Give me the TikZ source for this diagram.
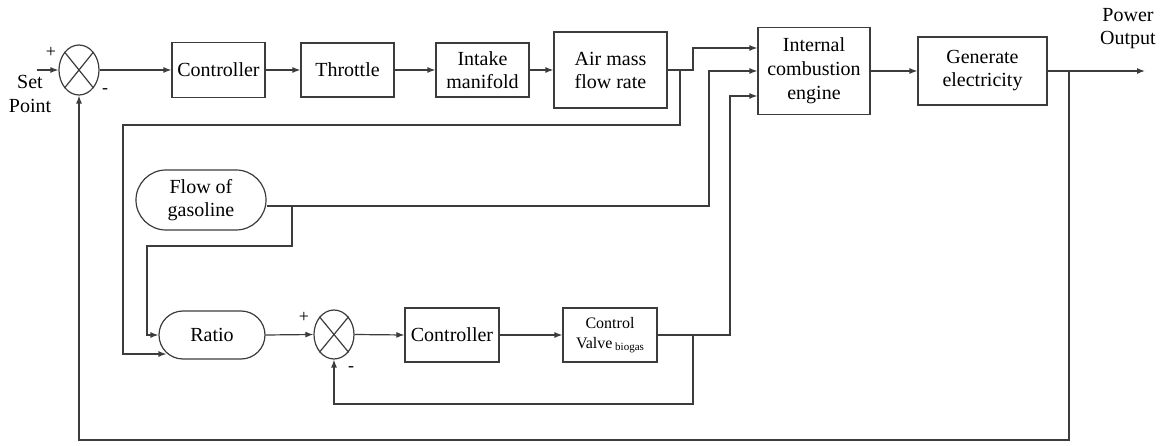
\documentclass[tikz,border=0pt]{standalone}
\usepackage{fontspec}
\setmainfont{Liberation Serif}
\newfontfamily\tnr{Liberation Serif}
\usetikzlibrary{shapes.geometric,shapes.misc,arrows.meta,calc}
\definecolor{ln}{RGB}{60,60,60}
\begin{document}
\begin{tikzpicture}[x=1pt,y=-1pt,
  every node/.style={inner sep=0pt, align=center, font=\tnr\fontsize{20}{23}\selectfont, text=black},
  blk/.style={draw=ln, line width=1.2pt, rectangle},
  rnd/.style={draw=ln, line width=1.2pt, rounded rectangle},
  sumj/.style={draw=ln, line width=1.2pt, ellipse, minimum width=40pt, minimum height=50pt},
  wire/.style={draw=ln, line width=1.2pt},
  arr/.style={wire, -{Latex[length=8pt,width=6pt]}},
  sgn/.style={font=\tnr\fontsize{18}{20}\selectfont},
]
\useasboundingbox (0,0) rectangle (1165,446);

% top loop
\node[sumj] (s1) at (79,70) {};
\draw[wire] (s1.north west) -- (s1.south east) (s1.north east) -- (s1.south west);
\node[blk, minimum width=93pt, minimum height=55pt] (c1) at (218.5,70) {Controller};
\node[blk, minimum width=93pt, minimum height=54pt] (thr) at (347.5,70) {Throttle};
\node[blk, minimum width=93pt, minimum height=54pt] (intk) at (482.5,70) {Intake\\manifold};
\node[blk, minimum width=113pt, minimum height=76pt] (air) at (610.5,70) {Air mass\\flow rate};
\node[blk, minimum width=112pt, minimum height=87pt, font=\tnr\fontsize{20}{24}\selectfont] (ice) at (814,71) {Internal\\combustion\\engine};
\node[blk, minimum width=129pt, minimum height=68pt] (gen) at (982.5,71) {Generate\\electricity};

\node[font=\tnr\fontsize{20}{24}\selectfont] (sp) at (30,94) {Set\\Point};
\node (po) at (1128,29) {Power\\Output};
\node[sgn] (p1) at (51,52) {+};
\node[sgn] (m1) at (105,91) {-};

\coordinate (spin) at (37,70);
\coordinate (pout) at (1145,71);

\draw[arr] (spin) -- (s1.west);
\draw[arr] (s1.east) -- (c1.west);
\draw[arr] (c1.east) -- (thr.west);
\draw[arr] (thr.east) -- (intk.west);
\draw[arr] (intk.east) -- (air.west);
\draw[arr] (air.east) -- (693,70) |- ($(ice.west)+(0,-23)$);
\draw[arr] (ice.east) -- (gen.west);
\draw[arr] (gen.east) -- (pout);
\draw[arr] (1069,71) -- (1069,440) -| (s1.south);

% lower part
\node[rnd, minimum width=130pt, minimum height=60pt] (gas) at (201,200) {Flow of\\gasoline};
\node[rnd, minimum width=106pt, minimum height=48pt] (ratio) at (212,335) {Ratio};
\node[sumj, minimum height=49pt] (s2) at (334,334.5) {};
\draw[wire] (s2.north west) -- (s2.south east) (s2.north east) -- (s2.south west);
\node[blk, minimum width=94pt, minimum height=54pt] (c2) at (452,335) {Controller};
\node[blk, minimum width=94pt, minimum height=54pt, font=\tnr\fontsize{16}{20}\selectfont] (valve) at (610,335) {Control\\Valve\,{\fontsize{11}{12}\selectfont\raisebox{-2pt}{biogas}}};
\node[sgn] (p2) at (304,317) {+};
\node[sgn] (m2) at (351,369) {-};

\draw[arr] (680,70) -- (680,125) -- (123,125) |- ($(ratio.west)+(8,19)$);
\draw[arr] ($(gas.east)+(0,6)$) -- (709,206) -- (709,71) -- (ice.west);
\draw[arr] (292,206) -- (292,246) -- (147,246) |- (ratio.west);
\draw[arr] (ratio.east) -- (s2.west);
\draw[arr] (s2.east) -- (c2.west);
\draw[arr] (c2.east) -- (valve.west);
\draw[arr] (valve.east) -- (730,335) |- ($(ice.west)+(0,25)$);
\draw[arr] (693,335) -- (693,404) -| (s2.south);
\end{tikzpicture}
\end{document}
